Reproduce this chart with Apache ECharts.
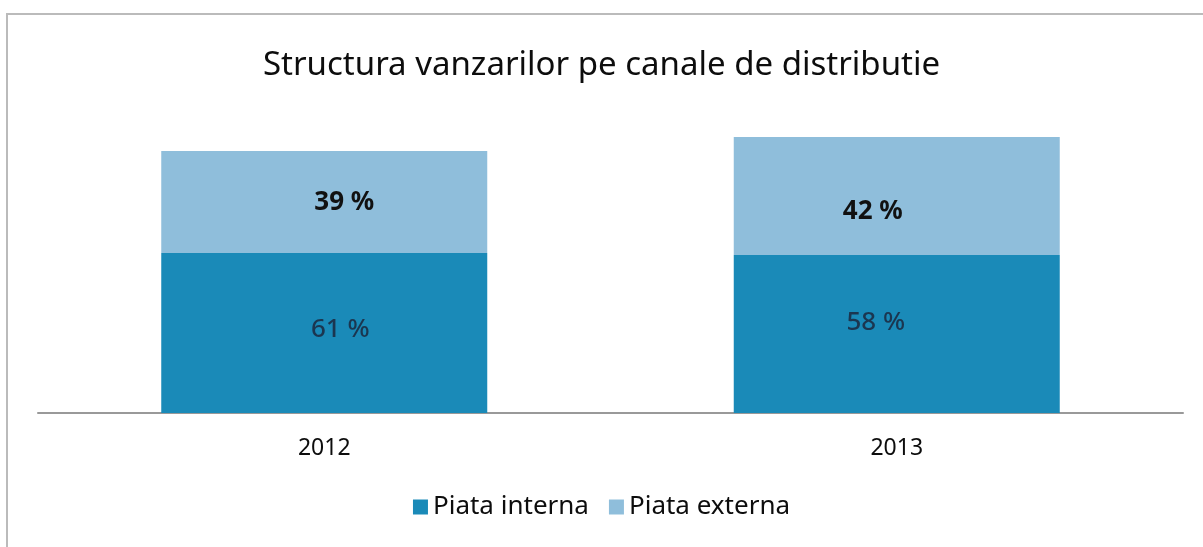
<!DOCTYPE html>
<html>
<head>
<meta charset="utf-8">
<title>Structura vanzarilor pe canale de distributie</title>
<script src="https://cdn.jsdelivr.net/npm/echarts@6/dist/echarts.min.js"></script>
<style>
  html, body { margin: 0; padding: 0; background: #fff; }
  #main { width: 1203px; height: 547px; }
</style>
</head>
<body>
<div id="main"></div>
<script type="text/javascript">
// data
var years = ['2012', '2013'];
var internValues = [61, 60.3];     // Piata interna (relative volume, 2012 total = 100)
var externValues = [39, 45];       // Piata externa
var internLabels = ['61 %', '58 %'];
var externLabels = ['39 %', '42 %'];
var seriesNames = ['Piata interna', 'Piata externa'];

var colInt = '#1a8ab8';
var colExt = '#8fbedb';

// per-bar label offsets (the labels in the original are nudged by hand)
var intOffsets = [[16, -3], [-21, -11]];
var extOffsets = [[20, 1], [-24, 16]];

function buildData(vals, labels, offs) {
  var out = [];
  for (var i = 0; i < vals.length; i++) {
    out.push({
      value: vals[i],
      label: { formatter: labels[i], offset: offs[i] }
    });
  }
  return out;
}

var chart = echarts.init(document.getElementById('main'));
var option = {
  animation: false,
  backgroundColor: '#fff',
  title: {
    text: 'Structura vanzarilor pe canale de distributie',
    left: 'center',
    top: 44,
    textStyle: { fontFamily: 'Noto Sans', fontSize: 33, fontWeight: 'normal', color: '#0d0d0d' }
  },
  legend: {
    bottom: 22,
    left: 'center',
    itemWidth: 15,
    itemHeight: 15,
    itemGap: 20,
    icon: 'rect',
    textStyle: { fontFamily: 'Noto Sans', fontSize: 26, color: '#0d0d0d' },
    data: seriesNames
  },
  grid: { left: 38, right: 20, top: 137, bottom: 134 },
  xAxis: {
    type: 'category',
    data: years,
    axisLine: { lineStyle: { color: '#999', width: 2 } },
    axisTick: { show: false },
    axisLabel: { fontFamily: 'Noto Sans', fontSize: 23, color: '#0d0d0d', margin: 24 }
  },
  yAxis: {
    type: 'value',
    min: 0,
    max: 105.3,
    show: false,
    splitLine: { show: false }
  },
  graphic: [{
    type: 'rect',
    shape: { x: 7, y: 14, width: 1300, height: 600 },
    style: { fill: 'none', stroke: '#bbb', lineWidth: 2 },
    silent: true
  }],
  series: [
    {
      name: seriesNames[0],
      type: 'bar',
      stack: 'total',
      barWidth: 326,
      itemStyle: { color: colInt },
      label: { show: true, position: 'inside', fontFamily: 'Noto Sans', fontSize: 26, fontWeight: 500, color: '#1b3650' },
      data: buildData(internValues, internLabels, intOffsets)
    },
    {
      name: seriesNames[1],
      type: 'bar',
      stack: 'total',
      barWidth: 326,
      itemStyle: { color: colExt },
      label: { show: true, position: 'inside', fontFamily: 'Noto Sans', fontSize: 26, fontWeight: 'bold', color: '#111' },
      data: buildData(externValues, externLabels, extOffsets)
    }
  ]
};
chart.setOption(option);
</script>
</body>
</html>
